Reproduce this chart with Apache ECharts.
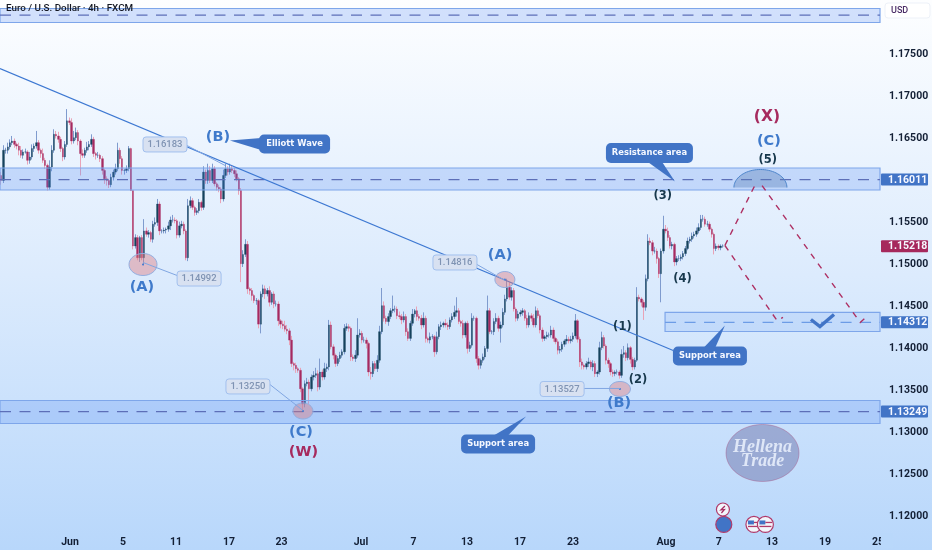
<!DOCTYPE html>
<html><head><meta charset="utf-8">
<style>html,body{margin:0;padding:0;background:#fff}#c{width:932px;height:550px}</style>
<script src="https://cdn.jsdelivr.net/npm/echarts@6/dist/echarts.min.js"></script>
</head><body><div id="c"></div>
<script>
// ---- chart values ----
const chartTitle = 'Euro / U.S. Dollar · 4h · FXCM';
const firstOpen = 1.1606;
const closes = [
1.1600,1.1636,1.1636,1.1640,1.1645,1.1647,1.1643,1.1641,1.1636,1.1630,
1.1634,1.1634,1.1624,1.1628,1.1638,1.1641,1.1645,1.1636,1.1632,1.1624,
1.1618,1.1592,1.1616,1.1636,1.1655,1.1653,1.1649,1.1638,1.1628,1.1643,
1.1671,1.1669,1.1647,1.1651,1.1657,1.1647,1.1632,1.1630,1.1636,1.1640,
1.1643,1.1649,1.1632,1.1630,1.1630,1.1626,1.1612,1.1602,1.1600,1.1595,
1.1604,1.1610,1.1614,1.1636,1.1626,1.1612,1.1612,1.1614,1.1638,1.1588,
1.1522,1.1532,1.1508,1.1532,1.1508,1.1540,1.1536,1.1538,1.1530,1.1548,
1.1550,1.1572,1.1540,1.1540,1.1541,1.1542,1.1546,1.1553,1.1553,1.1552,
1.1535,1.1546,1.1548,1.1540,1.1508,1.1570,1.1576,1.1568,1.1562,1.1564,
1.1574,1.1568,1.1610,1.1600,1.1612,1.1600,1.1614,1.1596,1.1592,1.1590,
1.1578,1.1606,1.1614,1.1610,1.1614,1.1612,1.1608,1.1602,1.1588,1.1501,
1.1512,1.1524,1.1471,1.1469,1.1463,1.1457,1.1457,1.1429,1.1465,1.1471,
1.1465,1.1469,1.1455,1.1465,1.1453,1.1453,1.1433,1.1429,1.1427,1.1423,
1.1421,1.1410,1.1382,1.1380,1.1376,1.1374,1.1352,1.1334,1.1358,1.1360,
1.1352,1.1366,1.1368,1.1370,1.1354,1.1372,1.1366,1.1376,1.1378,1.1428,
1.1402,1.1392,1.1382,1.1388,1.1392,1.1396,1.1424,1.1426,1.1424,1.1390,
1.1388,1.1392,1.1416,1.1418,1.1410,1.1410,1.1406,1.1372,1.1370,1.1382,
1.1376,1.1386,1.1420,1.1451,1.1436,1.1432,1.1438,1.1445,1.1447,1.1447,
1.1439,1.1438,1.1434,1.1438,1.1420,1.1412,1.1430,1.1441,1.1445,1.1438,
1.1436,1.1428,1.1436,1.1412,1.1410,1.1414,1.1414,1.1396,1.1414,1.1426,
1.1428,1.1430,1.1428,1.1426,1.1434,1.1438,1.1443,1.1445,1.1432,1.1430,
1.1416,1.1430,1.1400,1.1404,1.1436,1.1436,1.1388,1.1380,1.1386,1.1390,
1.1400,1.1445,1.1420,1.1420,1.1432,1.1436,1.1424,1.1428,1.1443,1.1459,
1.1473,1.1461,1.1469,1.1447,1.1436,1.1441,1.1443,1.1445,1.1436,1.1428,
1.1439,1.1436,1.1428,1.1445,1.1439,1.1422,1.1412,1.1414,1.1416,1.1416,
1.1422,1.1412,1.1408,1.1398,1.1399,1.1405,1.1409,1.1411,1.1409,1.1411,
1.1415,1.1433,1.1411,1.1384,1.1380,1.1378,1.1382,1.1384,1.1378,1.1382,
1.1370,1.1372,1.1401,1.1413,1.1403,1.1386,1.1382,1.1372,1.1370,1.1372,
1.1372,1.1368,1.1393,1.1395,1.1389,1.1401,1.1387,1.1378,1.1386,1.1461,
1.1459,1.1455,1.1449,1.1483,1.1528,1.1526,1.1516,1.1516,1.1507,1.1489,
1.1516,1.1542,1.1540,1.1532,1.1522,1.1524,1.1503,1.1507,1.1507,1.1509,
1.1513,1.1519,1.1528,1.1530,1.1534,1.1536,1.1540,1.1544,1.1554,1.1554,
1.1548,1.1548,1.1542,1.1536,1.1519,1.1522,1.1520,1.1522,1.1522];
const upperWicksPips = [
4,6,3,5,4,6,3,2,4,5, 3,4,2,6,5,3,14,3,2,6, 3,2,8,6,6,4,5,3,2,4, 14,4,5,8,6,3,2,5,3,6,
4,6,3,2,4,2,3,2,3,2, 4,3,6,9,3,3,2,4,3,1, 0,4,3,2,3,14,4,3,2,4, 6,6,3,2,3,2,5,4,6,3,
2,5,4,3,2,8,5,3,2,3, 4,2,7,3,8,5,6,3,2,3, 2,7,6,3,6,4,3,4,2,3, 5,6,4,2,3,2,3,2,3,5,
4,3,5,2,3,4,3,2,4,6, 5,3,5,2,3,2,3,2,4,5, 3,3,5,7,4,16,3,7,4,6, 4,3,2,3,4,3,5,4,3,2,
3,6,20,5,3,4,3,2,6,3, 3,6,7,21,5,3,4,3,16,4, 3,5,3,6,3,4,3,6,2,5, 3,4,7,3,2,5,3,2,6,3,
4,2,5,3,3,4,8,16,3,2, 4,2,3,4,6,3,2,3,2,4, 3,18,3,2,4,6,3,4,5,5, 10,6,4,3,2,4,3,3,2,4,
4,3,5,5,3,2,3,2,4,3, 5,3,2,3,4,3,2,5,3,4, 4,8,2,3,4,2,3,5,2,4, 3,2,7,7,3,2,3,2,3,2,
3,2,6,8,3,5,2,3,3,12, 3,2,3,5,8,4,3,5,3,2, 3,16,5,4,3,3,2,3,4,3, 3,3,4,3,4,3,4,5,5,5,
3,4,3,2,2,3,2,2,2];
const lowerWicksPips = [
5,3,4,4,3,3,4,4,6,3, 4,2,5,4,3,4,3,4,5,3, 4,4,3,5,3,3,4,4,5,3, 3,3,4,3,3,5,26,3,3,3,
4,3,4,5,3,4,5,6,6,4, 3,4,3,3,6,5,5,3,3,0, 4,3,3,5,3,9,3,4,3,4, 3,4,5,3,3,4,3,5,3,3,
4,3,3,4,3,4,3,3,4,3, 3,4,3,4,4,3,3,3,4,4, 5,3,3,4,3,3,4,3,5,22, 4,3,6,5,6,3,5,5,11,4,
6,3,5,3,5,3,6,5,4,3, 4,6,4,6,5,3,4,9,4,3, 18,3,4,3,5,3,4,3,4,4, 3,5,4,3,4,3,3,3,4,5,
3,4,3,3,4,3,6,5,7,4, 3,4,3,3,4,3,5,3,3,4, 4,3,5,3,5,3,3,3,4,5, 3,5,3,5,3,4,3,6,3,3,
4,3,3,4,3,3,3,5,3,4, 4,3,6,4,3,3,5,5,4,3, 3,4,3,3,4,3,4,17,3,3, 3,3,4,3,4,3,3,4,3,4,
3,4,3,3,3,4,4,3,3,3, 3,4,3,5,4,3,3,4,3,3, 3,3,4,6,5,3,3,4,3,5, 4,4,3,3,3,5,5,4,4,3,
3,4,3,4,4,3,5,4,3,2, 3,5,15,4,3,3,5,3,6,5, 34,3,3,4,3,4,5,4,3,3, 3,3,2,3,3,3,3,3,3,3,
3,3,3,4,7,3,3,3,2];
const dateTicks = [31.8,55.9,80,104.1,128,164.1,188,212.3,236.4,260.5,302.7,326.7,350.9,375,399.1];
const dateLabels = ['Jun','5','11','17','23','Jul','7','13','17','23','Aug','7','13','19','25'];
const priceTicks = [1.12,1.125,1.13,1.135,1.14,1.145,1.15,1.155,1.165,1.17,1.175];
const priceTags = [[1.16011,'1.16011','#4174c6'],[1.15218,'1.15218','#a6285c'],[1.14312,'1.14312','#4174c6'],[1.13249,'1.13249','#4174c6']];
// zones: first bar, last bar, top, bottom, level
const zones = [
  [0,400,1.18048,1.17881,1.1797],
  [0,400,1.16149,1.15887,1.16011],
  [0,400,1.13381,1.13107,1.13249],
  [302.3,400,1.14429,1.14202,1.14312]
];
const trendLine = [[0,1.17333],[306,1.13976]];
const projections = [
  [[329.5,1.15226],[344,1.15988]],
  [[346.4,1.1594],[391,1.1431],[394,1.14381]],
  [[329.5,1.15226],[353.2,1.14333],[355.9,1.14369]]
];
const checkMark = [[368.6,1.14345],[372.7,1.14262],[379.1,1.14405]];
const waveLabels = [
  [348.6,1.16762,'(X)','x'],[349.5,1.16464,'(C)','b'],[349,1.16238,'(5)','n'],
  [301.2,1.1581,'(3)','n'],[310.2,1.14833,'(4)','n'],[282.9,1.1425,'(1)','n'],
  [290,1.13619,'(2)','n'],[281.4,1.13345,'(B)','b'],[227.3,1.15107,'(A)','b'],
  [64.5,1.1473,'(A)','b'],[99.1,1.16512,'(B)','b'],[136.8,1.1300,'(C)','b'],[137.9,1.1277,'(W)','x']
];
const pricePivots = [
  [75,1.16429,'1.16183',[[85,1.16417],[102.3,1.16179]]],
  [90.5,1.14833,'1.14992',[[80.5,1.14869],[65,1.15024]]],
  [206.8,1.15024,'1.14816',[[216,1.15012],[229.5,1.1481]]],
  [112.7,1.13548,'1.13250',[[122.7,1.13571],[137.7,1.13262]]],
  [255.5,1.13518,'1.13527',[[265.5,1.13524],[281.8,1.13524]]]
];
const pivotRings = [[65,1.15,14,11],[229.5,1.14821,10,8],[137.7,1.13256,10,8],[281.8,1.13518,10.5,7.5]];
const callouts = [
  {text:'Elliott Wave',at:[133.9,1.16435],w:71,h:19,tip:[104.5,1.16476],side:'left',base:[-6,6]},
  {text:'Resistance area',at:[295.2,1.16327],w:87,h:20,tip:[306.8,1.15988],side:'bottom',base:[-3,12]},
  {text:'Support area',at:[322.7,1.13911],w:74,h:19,tip:[329.5,1.14274],side:'top',base:[-7,5]},
  {text:'Support area',at:[226.4,1.12863],w:74,h:19,tip:[239.1,1.1319],side:'top',base:[-6,9]}
];
const targetDome = {left:333.6,right:357.7,base:1.15917,top:1.16131};
const watermark = {at:[346.6,1.12756],lines:['Hellena','Trade']};
const eventIcons = [[328.6,1.12083,'bolt'],[329,1.11905,'eu'],[342.7,1.11905,'us'],[347.9,1.11905,'us']];

// ---- styles ----
const UP='#15425c', DOWN='#a62a60', UPW='#7f9bce', DOWNW='#e9a3b7', BLUE='#4174c6', BORDER='#7ea6ea';
const FONT='Roboto, "Open Sans", sans-serif';
const textColors={x:'#a62a5e',b:'#3f7acb',n:'#17384c'};

const opens = closes.map((c,i)=> i?closes[i-1]:firstOpen);
const fullCandles = closes.map((c,i)=>{
  const hi=Math.max(opens[i],c)+upperWicksPips[i]*1e-4, lo=Math.min(opens[i],c)-lowerWicksPips[i]*1e-4;
  return [i+0.5,opens[i],c,lo,hi];
});
const bodies = closes.map((c,i)=>[i+0.5,opens[i],c,Math.min(opens[i],c),Math.max(opens[i],c)]);

function layer(rows,draw,z){
  return {type:'custom',coordinateSystem:'cartesian2d',silent:true,animation:false,z:z,clip:false,
    data:rows.map((r,i)=>[i,0]),encode:{x:0,y:1},
    renderItem:(p,api)=>draw(rows[p.dataIndex],api)};
}
const txt=(x,y,text,fill,font,align)=>({type:'text',x:x,y:y,style:{text:text,fill:fill,font:font,align:align||'center',verticalAlign:'middle'}});
const poly=(pts,style)=>({type:'polyline',shape:{points:pts},style:Object.assign({fill:'none'},style)});

const option={
  animation:false,
  backgroundColor:{type:'linear',x:0,y:0,x2:0,y2:1,colorStops:[{offset:0,color:'#fdfeff'},{offset:.5,color:'#dcebfd'},{offset:1,color:'#b8d7fb'}]},
  title:{text:chartTitle,left:6,top:4,padding:0,textStyle:{fontFamily:FONT,fontSize:9.8,fontWeight:500,color:'#131722'}},
  grid:{left:0,top:0.5,width:880,height:530,containLabel:false},
  xAxis:{type:'value',min:0,max:400,position:'bottom',
    axisLine:{show:false},axisTick:{show:false},splitLine:{show:false},
    axisLabel:{customValues:dateTicks,formatter:v=>dateLabels[dateTicks.indexOf(v)],margin:6,fontFamily:FONT,fontSize:10.5,fontWeight:'bold',color:'#131f35',hideOverlap:false,showMinLabel:true,showMaxLabel:true}},
  yAxis:{type:'value',min:1.11833,max:1.18143,position:'right',scale:true,
    axisLine:{show:false},axisTick:{show:false},splitLine:{show:false},
    axisLabel:{customValues:priceTicks,formatter:v=>v.toFixed(5),margin:9,fontFamily:FONT,fontSize:10.5,fontWeight:'bold',color:'#131f35'}},
  series:[
    {type:'candlestick',data:fullCandles,encode:{x:0,y:[1,2,3,4]},barWidth:1,z:2,
      itemStyle:{color:UPW,color0:DOWNW,borderColor:UPW,borderColor0:DOWNW,borderWidth:1}},
    {type:'candlestick',data:bodies,encode:{x:0,y:[1,2,3,4]},barWidth:1.9,z:3,
      itemStyle:{color:UP,color0:DOWN,borderColor:UP,borderColor0:DOWN,borderWidth:.3}},
    // zones
    layer(zones,(r,api)=>{
      const a=api.coord([r[0],r[2]]),b=api.coord([r[1],r[3]]),m=api.coord([r[0],r[4]]),e=api.coord([r[1],r[4]]);
      const small=r[0]>0;
      return {type:'group',children:[
        {type:'rect',shape:{x:a[0],y:a[1],width:b[0]-a[0],height:b[1]-a[1]},style:{fill:small?'rgba(110,160,245,.18)':'rgba(85,140,245,.25)',stroke:BORDER,lineWidth:1.2}},
        {type:'line',shape:{x1:m[0],y1:m[1],x2:e[0],y2:e[1]},style:{stroke:small?'#6c9ce6':'#5d6fb8',lineWidth:1.3,lineDash:[11,8.5]}}
      ]};
    },5),
    // trend line
    layer([trendLine],(r,api)=>poly(r.map(p=>api.coord(p)),{stroke:'#3d78d2',lineWidth:1.1}),6),
    // rings
    layer(pivotRings,(r,api)=>{
      const c=api.coord([r[0],r[1]]);
      return {type:'group',children:[
        {type:'ellipse',shape:{cx:c[0],cy:c[1],rx:r[2],ry:r[3]},style:{fill:'rgba(222,120,125,.42)',stroke:'#92aee0',lineWidth:1}},
        {type:'circle',shape:{cx:c[0],cy:c[1],r:1},style:{fill:'#3d78d2'}}
      ]};
    },7),
    // pivot price boxes
    layer(pricePivots,(r,api)=>{
      const c=api.coord([r[0],r[1]]);
      return {type:'group',children:[
        poly(r[3].map(p=>api.coord(p)),{stroke:'#80a6e2',lineWidth:1}),
        {type:'rect',shape:{x:c[0]-22,y:c[1]-7.5,width:44,height:15,r:3},style:{fill:'#d8e1f1',stroke:'#a2c0ee',lineWidth:1}},
        txt(c[0],c[1]+.5,r[2],'#7f93b3','500 9.5px '+FONT)
      ]};
    },8),
    // projected path
    layer(projections,(r,api)=>poly(r.map(p=>api.coord(p)),{stroke:'#ae2f62',lineWidth:1.4,lineDash:[6,6]}),9),
    // dome
    layer([targetDome],(d,api)=>{
      const l=api.coord([d.left,d.base]),rr=api.coord([d.right,d.base]),t=api.coord([(d.left+d.right)/2,d.top]);
      const cx=(l[0]+rr[0])/2,rx=(rr[0]-l[0])/2,ry=l[1]-t[1],pts=[];
      for(let i=0;i<=40;i++){const a=Math.PI*i/40;pts.push([cx-rx*Math.cos(a),l[1]-ry*Math.sin(a)]);}
      return {type:'group',children:[
        {type:'polygon',shape:{points:pts},style:{fill:'rgba(88,125,185,.38)'}},
        poly(pts,{stroke:'#4e86cc',lineWidth:1})
      ]};
    },6),
    // check
    layer([checkMark],(r,api)=>poly(r.map(p=>api.coord(p)),{stroke:BLUE,lineWidth:3.4}),9),
    // callouts
    layer(callouts,(c,api)=>{
      const o=api.coord(c.at),tip=api.coord(c.tip),x=o[0]-c.w/2,y=o[1]-c.h/2;
      let b1,b2;
      if(c.side==='left'){b1=[x+2,o[1]+c.base[0]];b2=[x+2,o[1]+c.base[1]];}
      else if(c.side==='top'){b1=[o[0]+c.base[0],y+2];b2=[o[0]+c.base[1],y+2];}
      else {b1=[o[0]+c.base[0],y+c.h-2];b2=[o[0]+c.base[1],y+c.h-2];}
      return {type:'group',children:[
        {type:'polygon',shape:{points:[b1,tip,b2]},style:{fill:BLUE}},
        {type:'rect',shape:{x:x,y:y,width:c.w,height:c.h,r:5},style:{fill:BLUE}},
        txt(o[0],o[1],c.text,'#f5f8ff','bold 8.4px "DejaVu Sans", sans-serif')
      ]};
    },10),
    // wave labels
    layer(waveLabels,(r,api)=>{
      const c=api.coord([r[0],r[1]]);
      const f=r[3]==='n'?'bold 11.5px "DejaVu Sans", sans-serif':(r[2]==='(X)'?'bold 15.5px "DejaVu Sans", sans-serif':'bold 14.5px "DejaVu Sans", sans-serif');
      return txt(c[0],c[1],r[2],textColors[r[3]],f);
    },11),
    // watermark
    layer([watermark],(w,api)=>{
      const c=api.coord(w.at);
      return {type:'group',children:[
        {type:'ellipse',shape:{cx:c[0],cy:c[1],rx:36.5,ry:28.5},style:{fill:'rgba(125,135,185,.6)',stroke:'rgba(166,60,110,.35)',lineWidth:1}},
        txt(c[0],c[1]-6,w.lines[0],'#dfe7f7','italic bold 18px "Liberation Serif", serif'),
        txt(c[0],c[1]+8,w.lines[1],'#dfe7f7','italic bold 18px "Liberation Serif", serif')
      ]};
    },4),
    // event icons
    layer(eventIcons,(r,api)=>{
      const c=api.coord([r[0],r[1]]);
      const kids=[{type:'circle',shape:{cx:c[0],cy:c[1],r:r[2]==='bolt'?6.5:8},style:{fill:r[2]==='eu'?BLUE:'#f3f5fb',stroke:'#b03a6a',lineWidth:1.2}}];
      if(r[2]==='bolt') kids.push(poly([[c[0]+2,c[1]-3.5],[c[0]-2,c[1]+.5],[c[0]+1.5,c[1]],[c[0]-1.5,c[1]+3.5]],{stroke:'#a62a60',lineWidth:1.2}));
      if(r[2]==='us') kids.push(
        {type:'rect',shape:{x:c[0]-6,y:c[1]-4,width:6,height:4},style:{fill:BLUE}},
        {type:'line',shape:{x1:c[0]-6,y1:c[1]+2,x2:c[0]+6,y2:c[1]+2},style:{stroke:'#b03a6a',lineWidth:1.3}},
        {type:'line',shape:{x1:c[0],y1:c[1]-2,x2:c[0]+7,y2:c[1]-2},style:{stroke:'#b03a6a',lineWidth:1.3}});
      return {type:'group',children:kids};
    },12),
    // price tags
    layer(priceTags,(r,api)=>{
      const c=api.coord([400,r[0]]);
      return {type:'group',children:[
        {type:'rect',shape:{x:c[0]+1,y:c[1]-6,width:47,height:12,r:1},style:{fill:r[2]}},
        txt(c[0]+8,c[1]+.5,r[1],'#f6f8ff','bold 10.5px '+FONT,'left')
      ]};
    },13)
  ],
  graphic:[
    {type:'rect',z:100,shape:{x:885,y:3,width:45,height:15,r:3},style:{fill:'#ffffff',stroke:'#edf1f8',lineWidth:1}},
    {type:'text',z:101,x:891,y:6,style:{text:'USD',fill:'#4a2c66',font:'500 9px '+FONT}},
    {type:'rect',z:100,shape:{x:881,y:533,width:12,height:15},style:{fill:'#b9d8fb'}}
  ]
};
const chart=echarts.init(document.getElementById('c'),null,{renderer:'canvas',width:932,height:550});
chart.setOption(option);
</script></body></html>
